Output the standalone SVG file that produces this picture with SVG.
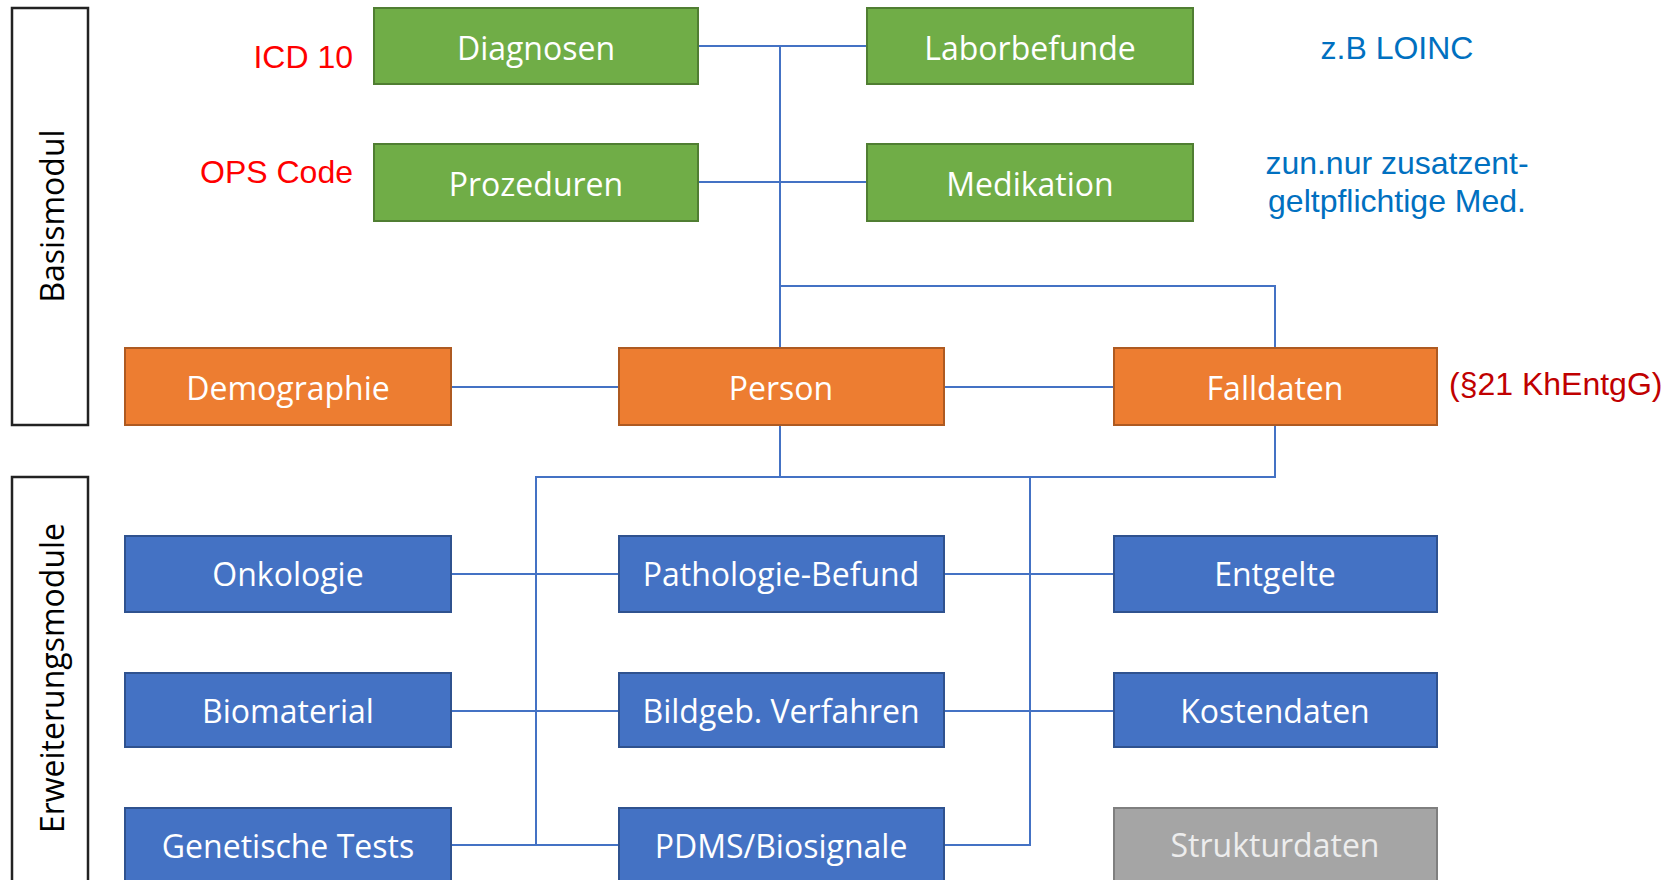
<svg xmlns="http://www.w3.org/2000/svg" width="1670" height="880" viewBox="0 0 1670 880">
<style>
.g{fill:#70AD47;stroke:#507E32;stroke-width:2}
.o{fill:#ED7D31;stroke:#AE5A21;stroke-width:2}
.b{fill:#4472C4;stroke:#2F528F;stroke-width:2}
.gr{fill:#A5A5A5;stroke:#7F7F7F;stroke-width:2}
.t{font-family:"Open Sans","Noto Sans",sans-serif;font-size:32px;fill:#FFFFFF;text-anchor:middle}
.ts{fill:#EDEDED}
.side{font-family:"Open Sans","Noto Sans",sans-serif;font-size:32px;fill:#000;text-anchor:middle}
.lbl{font-family:"Liberation Sans",Arial,sans-serif;font-size:32px}
.frame{fill:none;stroke:#222;stroke-width:2.5}
.c{fill:none;stroke:#4472C4;stroke-width:2}
</style>
<rect width="1670" height="880" fill="#FFFFFF"/>
<g id="basismodul">
<rect class="frame" x="12" y="8" width="76" height="417"/>
<text class="side" transform="translate(64,216) rotate(-90)">Basismodul</text>
</g>
<g id="erweiterungsmodule">
<rect class="frame" x="12" y="477" width="76" height="420"/>
<text class="side" transform="translate(64,678) rotate(-90)">Erweiterungsmodule</text>
</g>
<g id="connectors">
<path class="c" d="M698,46 H867"/>
<path class="c" d="M698,182 H867"/>
<path class="c" d="M780,46 V348"/>
<path class="c" d="M780,286 H1275 V348"/>
<path class="c" d="M451,387 H619"/>
<path class="c" d="M944,387 H1114"/>
<path class="c" d="M780,425 V477"/>
<path class="c" d="M1275,425 V477 H536 V845"/>
<path class="c" d="M1030,477 V845 H944"/>
<path class="c" d="M451,574 H619"/>
<path class="c" d="M451,711 H619"/>
<path class="c" d="M451,845 H619"/>
<path class="c" d="M944,574 H1114"/>
<path class="c" d="M944,711 H1114"/>
</g>
<g id="diagnosen"><rect class="g" x="374" y="8" width="324" height="76"/><text class="t" x="536" y="60">Diagnosen</text></g>
<g id="laborbefunde"><rect class="g" x="867" y="8" width="326" height="76"/><text class="t" x="1030" y="60">Laborbefunde</text></g>
<g id="prozeduren"><rect class="g" x="374" y="144" width="324" height="77"/><text class="t" x="536" y="196">Prozeduren</text></g>
<g id="medikation"><rect class="g" x="867" y="144" width="326" height="77"/><text class="t" x="1030" y="196">Medikation</text></g>
<g id="demographie"><rect class="o" x="125" y="348" width="326" height="77"/><text class="t" x="288" y="400">Demographie</text></g>
<g id="person"><rect class="o" x="619" y="348" width="325" height="77"/><text class="t" x="781" y="400">Person</text></g>
<g id="falldaten"><rect class="o" x="1114" y="348" width="323" height="77"/><text class="t" x="1275" y="400">Falldaten</text></g>
<g id="onkologie"><rect class="b" x="125" y="536" width="326" height="76"/><text class="t" x="288" y="586">Onkologie</text></g>
<g id="pathologie"><rect class="b" x="619" y="536" width="325" height="76"/><text class="t" x="781" y="586">Pathologie-Befund</text></g>
<g id="entgelte"><rect class="b" x="1114" y="536" width="323" height="76"/><text class="t" x="1275" y="586">Entgelte</text></g>
<g id="biomaterial"><rect class="b" x="125" y="673" width="326" height="74"/><text class="t" x="288" y="723">Biomaterial</text></g>
<g id="bildgeb"><rect class="b" x="619" y="673" width="325" height="74"/><text class="t" x="781" y="723">Bildgeb. Verfahren</text></g>
<g id="kostendaten"><rect class="b" x="1114" y="673" width="323" height="74"/><text class="t" x="1275" y="723">Kostendaten</text></g>
<g id="genetische"><rect class="b" x="125" y="808" width="326" height="80"/><text class="t" x="288" y="858">Genetische Tests</text></g>
<g id="pdms"><rect class="b" x="619" y="808" width="325" height="80"/><text class="t" x="781" y="858">PDMS/Biosignale</text></g>
<g id="strukturdaten"><rect class="gr" x="1114" y="808" width="323" height="80"/><text class="t ts" x="1275" y="857">Strukturdaten</text></g>
<g id="labels">
<text class="lbl" x="353" y="68" fill="#FF0000" text-anchor="end">ICD 10</text>
<text class="lbl" x="353" y="183" fill="#FF0000" text-anchor="end">OPS Code</text>
<text class="lbl" x="1397" y="59" fill="#0070C0" text-anchor="middle">z.B LOINC</text>
<text class="lbl" x="1397" y="174" fill="#0070C0" text-anchor="middle">zun.nur zusatzent-</text>
<text class="lbl" x="1397" y="212" fill="#0070C0" text-anchor="middle">geltpflichtige Med.</text>
<text class="lbl" x="1449" y="395" fill="#C00000">(§21 KhEntgG)</text>
</g>
</svg>
